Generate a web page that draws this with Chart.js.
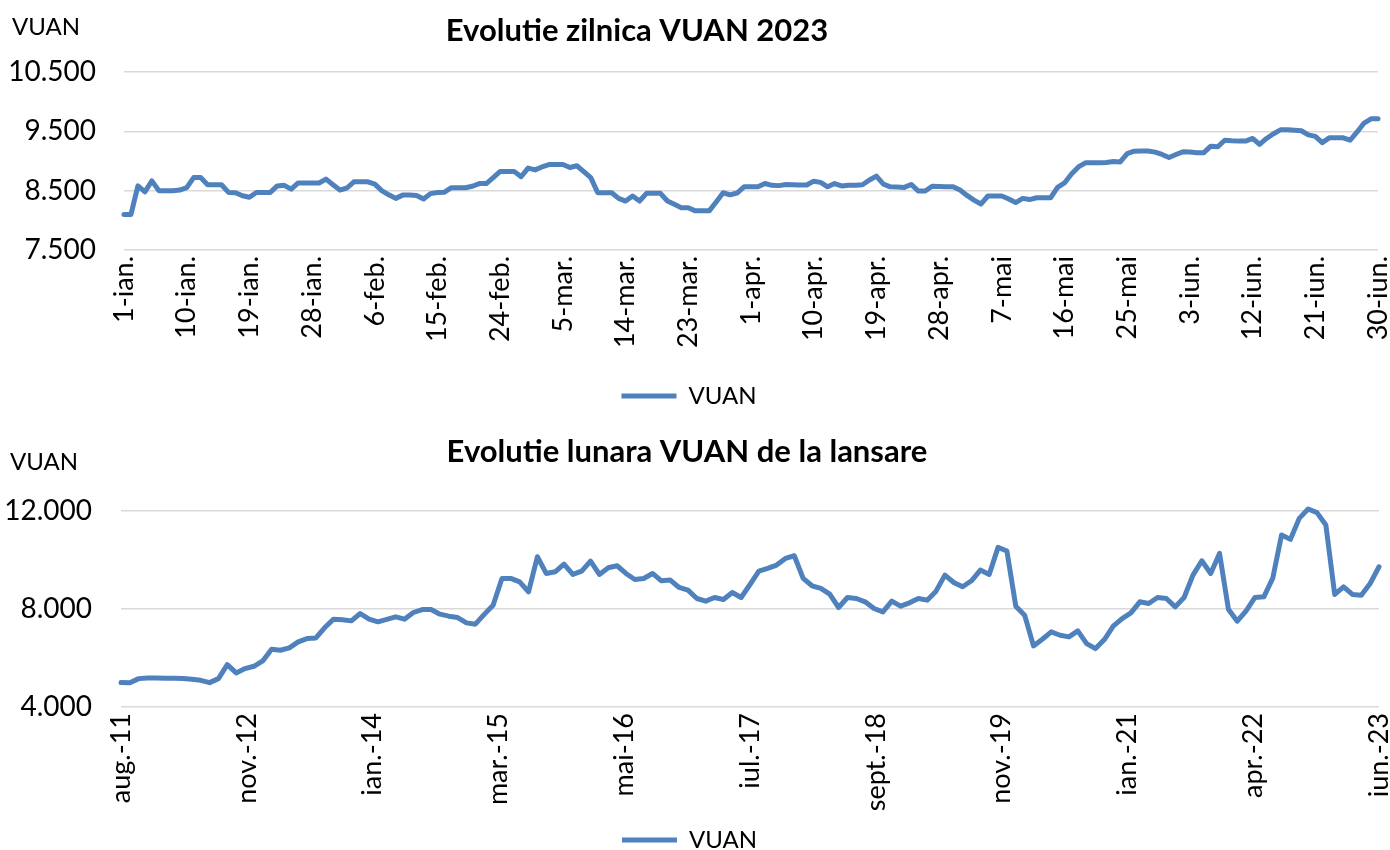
<!DOCTYPE html>
<html>
<head>
<meta charset="utf-8">
<script src="https://cdn.jsdelivr.net/npm/chart.js@4.4.0/dist/chart.umd.min.js"></script>
<style>
  html, body { margin: 0; background: #fff; overflow: hidden; }
  .panel { position: absolute; left: 0; width: 1390px; }
  #dailyBox { top: 0; height: 418px; }
  #monthlyBox { top: 420px; height: 442px; }
</style>
</head>
<body>
<div class="panel" id="dailyBox"><canvas id="dailyChart"></canvas></div>
<div class="panel" id="monthlyBox"><canvas id="monthlyChart"></canvas></div>
<script>
// daily chart, 1 jan - 30 jun 2023 (one value per calendar day)
const dailyTickLabels = ['1-ian.', '10-ian.', '19-ian.', '28-ian.', '6-feb.', '15-feb.', '24-feb.',
  '5-mar.', '14-mar.', '23-mar.', '1-apr.', '10-apr.', '19-apr.', '28-apr.', '7-mai', '16-mai',
  '25-mai', '3-iun.', '12-iun.', '21-iun.', '30-iun.'];
const dailyValues = [
  8100, 8100, 8580, 8480, 8665, 8500, 8500, 8500, 8510, 8550,
  8720, 8720, 8600, 8600, 8600, 8470, 8465, 8415, 8390, 8470,
  8470, 8470, 8580, 8590, 8525, 8630, 8630, 8630, 8630, 8695,
  8600, 8510, 8545, 8650, 8650, 8650, 8610, 8500, 8430, 8370,
  8425, 8425, 8420, 8360, 8450, 8470, 8475, 8550, 8550, 8550,
  8575, 8620, 8620, 8720, 8825, 8825, 8825, 8735, 8880, 8850,
  8900, 8940, 8940, 8940, 8890, 8920, 8820, 8720, 8465, 8465,
  8465, 8370, 8325, 8410, 8325, 8455, 8455, 8455, 8325, 8270,
  8212, 8212, 8160, 8160, 8160, 8310, 8465, 8430, 8460, 8565,
  8565, 8565, 8620, 8590, 8585, 8605, 8600, 8595, 8595, 8660,
  8640, 8565, 8620, 8580, 8590, 8590, 8600, 8680, 8745, 8610,
  8565, 8560, 8555, 8605, 8495, 8495, 8575, 8570, 8565, 8565,
  8510, 8420, 8340, 8275, 8410, 8410, 8410, 8360, 8300, 8370,
  8350, 8380, 8380, 8380, 8555, 8630, 8780, 8900, 8970, 8970,
  8970, 8975, 8990, 8985, 9125, 9165, 9170, 9170, 9150, 9110,
  9060, 9110, 9155, 9150, 9140, 9140, 9250, 9240, 9350, 9340,
  9335, 9335, 9380, 9280, 9380, 9460, 9525, 9525, 9520, 9510,
  9440, 9415, 9310, 9390, 9390, 9390, 9350, 9490, 9640, 9710,
  9710
];

// monthly chart, aug 2011 - jun 2023
const monthlyTickLabels = ['aug.-11', 'nov.-12', 'ian.-14', 'mar.-15', 'mai-16', 'iul.-17',
  'sept.-18', 'nov.-19', 'ian.-21', 'apr.-22', 'iun.-23'];
const monthlyValues = [
  4995, 4985, 5158, 5185, 5180, 5175, 5170, 5160, 5130, 5090,
  4995, 5158, 5730, 5390, 5567, 5662, 5880, 6357, 6316, 6412,
  6657, 6793, 6820, 7243, 7584, 7560, 7516, 7816, 7584, 7475,
  7580, 7680, 7584, 7857, 7979, 7979, 7789, 7707, 7652, 7434,
  7380, 7780, 8156, 9247, 9247, 9110, 8702, 10133, 9451, 9519,
  9833, 9410, 9547, 9956, 9410, 9683, 9765, 9451, 9206, 9247,
  9451, 9151, 9179, 8879, 8770, 8429, 8320, 8470, 8388, 8674,
  8470, 9001, 9547, 9656, 9792, 10065, 10174, 9247, 8947, 8838,
  8606, 8061, 8470, 8429, 8293, 8020, 7884, 8320, 8115, 8252,
  8429, 8361, 8729, 9383, 9083, 8906, 9151, 9588, 9410, 10515,
  10365, 8115, 7748, 6494, 6766, 7066, 6930, 6861, 7107, 6589,
  6384, 6752, 7298, 7611, 7843, 8293, 8225, 8470, 8429, 8088,
  8470, 9383, 9969, 9451, 10270, 7993, 7502, 7925, 8470, 8497,
  9247, 11019, 10842, 11700, 12082, 11932, 11428, 8593, 8906, 8593,
  8565, 9042, 9724
];

const FONT = 'Lato';
const LINE_COLOR = '#4f81bd';

const fmt = v => String(v).replace(/\B(?=(\d{3})+(?!\d))/g, '.');

// title + "VUAN" unit label drawn at fixed spots, like the excel layout
const panelText = {
  id: 'panelText',
  afterDraw(chart, args, o) {
    const ctx = chart.ctx;
    ctx.save();
    ctx.fillStyle = '#000';
    ctx.textBaseline = 'middle';
    ctx.font = `bold 31px ${FONT}`;
    ctx.textAlign = 'center';
    ctx.fillText(o.title, o.titleX, o.titleY);
    ctx.font = `24px ${FONT}`;
    ctx.textAlign = 'left';
    ctx.fillText(o.unit, o.unitX, o.unitY);
    ctx.restore();
  }
};

function buildChart(canvasId, values, tickLabels, s) {
  const points = values.map((v, i) => ({ x: i, y: v }));
  const last = values.length - 1;

  return new Chart(document.getElementById(canvasId), {
    type: 'line',
    data: {
      datasets: [{
        label: 'VUAN',
        data: points,
        borderColor: LINE_COLOR,
        backgroundColor: LINE_COLOR,
        borderWidth: 5,
        borderJoinStyle: 'round',
        borderCapStyle: 'round',
        pointRadius: 0,
        tension: 0,
        clip: false
      }]
    },
    options: {
      responsive: true,
      maintainAspectRatio: false,
      animation: false,
      layout: { padding: { top: s.padTop, right: s.padRight, bottom: 0, left: 0 } },
      plugins: {
        legend: {
          position: 'bottom',
          labels: {
            usePointStyle: true,
            pointStyle: 'line',
            pointStyleWidth: 55,
            color: '#000',
            padding: 10,
            font: { family: FONT, size: 24 }
          }
        },
        tooltip: { enabled: false },
        panelText: s.text
      },
      scales: {
        x: {
          type: 'linear',
          min: 0,
          max: last,
          afterBuildTicks: scale => {
            scale.ticks = tickLabels.map((t, k) => ({ value: k * last / (tickLabels.length - 1) }));
          },
          afterFit: scale => {
            scale.height = s.xHeight;
            // rotated end labels should not shrink the plot
            scale.paddingLeft = 0;
            scale.paddingRight = 0;
          },
          ticks: {
            autoSkip: false,
            minRotation: 90,
            maxRotation: 90,
            padding: 6,
            color: '#000',
            font: { family: FONT, size: 27 },
            callback: (v, idx) => tickLabels[idx]
          },
          grid: { display: false, drawTicks: false },
          border: { display: false }
        },
        y: {
          min: s.yMin,
          max: s.yMax,
          afterFit: scale => { scale.width = s.yWidth; },
          ticks: {
            stepSize: s.yStep,
            padding: s.yPad,
            color: '#000',
            font: { family: FONT, size: 28 },
            callback: v => fmt(v)
          },
          grid: { color: '#d9d9d9', lineWidth: 1.5, drawTicks: false },
          border: { display: false }
        }
      }
    },
    plugins: [panelText]
  });
}

buildChart('dailyChart', dailyValues, dailyTickLabels, {
  padTop: 72, padRight: 12, xHeight: 124, yWidth: 124, yPad: 28,
  yMin: 7500, yMax: 10500, yStep: 1000,
  text: { title: 'Evolutie zilnica VUAN 2023', titleX: 637, titleY: 31, unit: 'VUAN', unitX: 12, unitY: 27 }
});

buildChart('monthlyChart', monthlyValues, monthlyTickLabels, {
  padTop: 91, padRight: 11, xHeight: 111, yWidth: 121, yPad: 29,
  yMin: 4000, yMax: 12000, yStep: 4000,
  text: { title: 'Evolutie lunara VUAN de la lansare', titleX: 687, titleY: 32, unit: 'VUAN', unitX: 10, unitY: 42 }
});
</script>
</body>
</html>
